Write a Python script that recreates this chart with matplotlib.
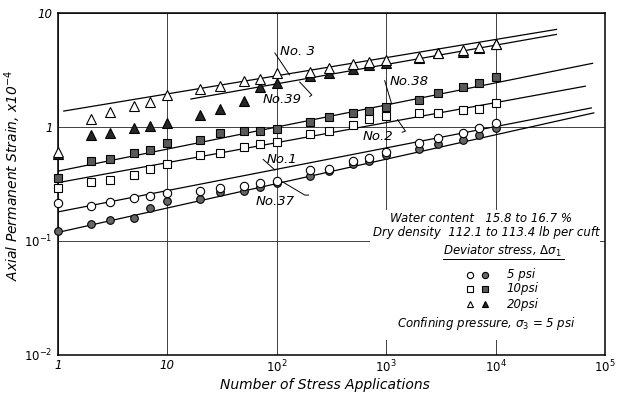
import matplotlib.pyplot as plt
from matplotlib.patches import Rectangle

plt.rcParams['font.family'] = ['DejaVu Sans']
plt.rcParams['mathtext.default'] = 'it'

# load repetitions
cycles = [1, 2, 3, 5, 7, 10, 20, 30, 50, 70, 100, 200, 300, 500, 700,
          1000, 2000, 3000, 5000, 7000, 10000]

# axial permanent strain, x10^-4
no3 = [0.605, 1.17, 1.35, 1.52, 1.65, 1.90, 2.15, 2.28, 2.52, 2.62, 2.96,
       3.02, 3.27, 3.55, 3.70, 3.85, 4.08, 4.43, 4.70, 5.0, 5.4]
no39 = [0.58, 0.85, 0.885, 0.98, 1.02, 1.08, 1.27, 1.44, 1.69, 2.23, 2.42,
        2.79, 2.96, 3.21, 3.48, 3.62, 4.0, 4.43, 4.52, 4.90, 5.3]
no38 = [0.359, 0.505, 0.526, 0.59, 0.63, 0.725, 0.77, 0.886, 0.92, 0.92, 0.96,
        1.105, 1.22, 1.33, 1.38, 1.50, 1.72, 1.98, 2.23, 2.42, 2.73]
no2 = [0.293, 0.33, 0.344, 0.38, 0.43, 0.475, 0.57, 0.59, 0.67, 0.71, 0.74,
       0.87, 0.92, 1.04, 1.17, 1.25, 1.33, 1.33, 1.41, 1.44, 1.62]
no1 = [0.217, 0.204, 0.22, 0.24, 0.25, 0.265, 0.276, 0.293, 0.306, 0.325, 0.338,
       0.42, 0.43, 0.505, 0.535, 0.605, 0.725, 0.80, 0.886, 0.98, 1.08]
no37 = [0.123, 0.14, 0.154, 0.16, 0.196, 0.226, 0.235, 0.27, 0.276, 0.30, 0.325,
        0.37, 0.41, 0.475, 0.505, 0.57, 0.64, 0.71, 0.77, 0.85, 0.98]

# fitted straight lines (end points)
fit_x = {'3': [1.13, 36000], '39': [16.4, 36000], '38': [1.0, 77000],
         '2': [1.0, 66000], '1': [1.0, 75000], '37': [1.0, 79000]}
fit_y = {'3': [1.38, 7.18], '39': [1.76, 6.49], '38': [0.41, 3.62],
         '2': [0.325, 2.28], '1': [0.18, 1.47], '37': [0.119, 1.33]}

# curve labels: text position and leader polyline
labels = ['No. 3', 'No.39', 'No.38', 'No.2', 'No.1', 'No.37']
label_x = [106, 74, 1075, 610, 81, 64]
label_y = [4.55, 1.73, 2.53, 0.82, 0.514, 0.224]
leader_x = [[96, 131], [162, 209, 200], [969, 1120], [1270, 1500, 1400],
            [75, 96], [113, 180, 195]]
leader_y = [[4.46, 2.86], [2.48, 1.91, 1.85], [2.55, 1.6], [1.16, 0.92, 0.9],
            [0.52, 0.42], [0.33, 0.253, 0.253]]

fig = plt.figure(figsize=(6.21, 3.94), dpi=100)
ax = fig.add_axes([58 / 621, 1 - 355 / 394, 547 / 621, 342 / 394])
ax.set_xscale('log')
ax.set_yscale('log')
ax.set_xlim(1, 1e5)
ax.set_ylim(0.01, 10)

for k in fit_x:
    ax.plot(fit_x[k], fit_y[k], color='black', lw=0.9, zorder=2)

mk = dict(ls='none', markeredgecolor='black', markeredgewidth=0.8, zorder=3, clip_on=False)
ax.plot(cycles, no39, marker='^', ms=6.5, markerfacecolor='0.15', **mk)
ax.plot(cycles, no3, marker='^', ms=7, markerfacecolor='white', **mk)
ax.plot(cycles, no38, marker='s', ms=5.5, markerfacecolor='0.35', **mk)
ax.plot(cycles, no2, marker='s', ms=5.5, markerfacecolor='white', **mk)
ax.plot(cycles, no37, marker='o', ms=5.5, markerfacecolor='0.4', **mk)
ax.plot(cycles, no1, marker='o', ms=6, markerfacecolor='white', **mk)

for t, x, y, lx, ly in zip(labels, label_x, label_y, leader_x, leader_y):
    ax.text(x, y, t, fontsize=9.5, style='italic', va='center', ha='left', zorder=4)
    ax.plot(lx, ly, color='black', lw=0.7, zorder=4)

# grid only at decades
ax.grid(True, which='major', color='0.25', lw=0.7)
ax.minorticks_off()
ax.tick_params(length=0, labelsize=8.5)
ax.tick_params(axis='x', pad=3)
ax.tick_params(axis='y', pad=4)
ax.set_xticks([1, 10, 100, 1e3, 1e4, 1e5])
ax.set_xticklabels(['1', '10', '$10^2$', '$10^3$', '$10^4$', '$10^5$'], style='italic')
ax.set_yticks([0.01, 0.1, 1, 10])
ax.set_yticklabels(['$10^{-2}$', '$10^{-1}$', '1', '10'], style='italic')
for s in ax.spines.values():
    s.set_linewidth(1.1)

# white block behind the notes
ax.add_patch(Rectangle((0.57, 0.044), 0.421, 0.38, transform=ax.transAxes,
                       facecolor='white', edgecolor='none', zorder=1.8))

note = dict(transform=ax.transAxes, fontsize=8.5, style='italic', zorder=5)
ax.text(0.607, 0.40, 'Water content   15.8 to 16.7 %', va='center', **note)
ax.text(0.576, 0.357, 'Dry density  112.1 to 113.4 lb per cuft', va='center', **note)
ax.text(0.704, 0.304, r'Deviator stress, $\Delta\sigma_1$', va='center', **note)
ax.plot([0.704, 0.925], [0.28, 0.28], transform=ax.transAxes, color='black', lw=0.7)
leg_y = [0.234, 0.193, 0.149]
leg_txt = ['5 psi', '10psi', '20psi']
leg_m = ['o', 's', '^']
leg_fill = ['0.4', '0.35', '0.15']
for y, t, m, f in zip(leg_y, leg_txt, leg_m, leg_fill):
    ax.plot([0.753], [y], marker=m, ms=4.5, mfc='white', mec='black', mew=0.8,
            transform=ax.transAxes, zorder=5)
    ax.plot([0.781], [y], marker=m, ms=4.5, mfc=f, mec='black', mew=0.8,
            transform=ax.transAxes, zorder=5)
    ax.text(0.82, y, t, va='center', **note)
ax.text(0.62, 0.091, r'Confining pressure, $\sigma_3$ = 5 psi', va='center', **note)

fig.text(325 / 621, 1 - 385 / 394, 'Number of Stress Applications', ha='center',
         va='center', fontsize=10, style='italic')
fig.text(13 / 621, 1 - 175 / 394, r'Axial Permanent Strain, x10$^{-4}$', ha='center',
         va='center', rotation=90, fontsize=10, style='italic')

fig.savefig('out.png', dpi=100)
